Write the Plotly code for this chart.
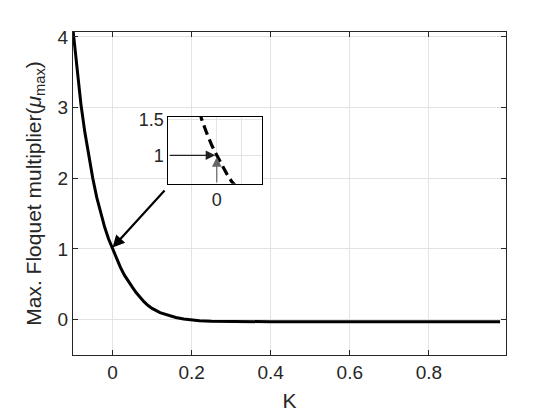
import plotly.graph_objects as go

# curve
k_vals = [-0.10, -0.09, -0.08, -0.07, -0.06, -0.05, -0.04, -0.03, -0.02, -0.01,
          0.00, 0.01, 0.02, 0.03, 0.04, 0.05, 0.06, 0.07, 0.08, 0.09,
          0.10, 0.12, 0.14, 0.16, 0.18, 0.20, 0.22, 0.25, 0.30, 0.35,
          0.40, 0.50, 0.60, 0.70, 0.80, 0.90, 0.98]
mu_vals = [4.10, 3.55, 3.05, 2.65, 2.30, 2.00, 1.73, 1.50, 1.31, 1.14,
           1.00, 0.86, 0.74, 0.63, 0.54, 0.46, 0.38, 0.31, 0.25, 0.20,
           0.16, 0.10, 0.06, 0.03, 0.01, -0.005, -0.015, -0.022, -0.027, -0.03,
           -0.03, -0.03, -0.03, -0.03, -0.03, -0.028, -0.028]

x_ticks = [0, 0.2, 0.4, 0.6, 0.8]
y_ticks = [0, 1, 2, 3, 4]
inset_x_ticks = [-0.05, 0, 0.05]
inset_x_text = ['', '0', '']
inset_y_ticks = [1, 1.5]

fnt = "Arial, Liberation Sans, sans-serif"
grid = "#e3e3e3"
axcol = "#262626"

fig = go.Figure()
fig.add_trace(go.Scatter(x=k_vals, y=mu_vals, mode="lines",
                         line=dict(color="black", width=3), showlegend=False))
fig.add_trace(go.Scatter(x=k_vals, y=mu_vals, mode="lines", xaxis="x2", yaxis="y2",
                         line=dict(color="black", width=3.2, dash="10px,5px"), showlegend=False))

# page body has an 8px margin, so the figure is 8px smaller
fig.update_layout(
    width=552, height=412,
    margin=dict(l=65, r=54, t=24, b=63),
    paper_bgcolor="white", plot_bgcolor="white",
    font=dict(family=fnt, size=19, color=axcol),
    xaxis=dict(range=[-0.1, 0.995], tickvals=x_ticks, ticks="inside", ticklen=5,
               tickcolor=axcol, showline=True, linecolor=axcol, mirror="ticks",
               showgrid=True, gridcolor=grid, zeroline=False,
               title=dict(text="K", font=dict(size=21), standoff=11)),
    yaxis=dict(range=[-0.5, 4.07], tickvals=y_ticks, ticks="inside", ticklen=5,
               tickcolor=axcol, showline=True, linecolor=axcol, mirror="ticks",
               showgrid=True, gridcolor=grid, zeroline=False,
               title=dict(text="Max. Floquet multiplier(<i>μ</i><sub>max</sub>)",
                          font=dict(size=21), standoff=10)),
    xaxis2=dict(domain=[0.220, 0.436], anchor="y2", range=[-0.097, 0.09],
                tickvals=inset_x_ticks, ticktext=inset_x_text, ticks="",
                showline=True, linecolor="black", mirror=True,
                showgrid=True, gridcolor=grid, zeroline=False,
                tickfont=dict(size=18)),
    yaxis2=dict(domain=[0.530, 0.7375], anchor="x2", range=[0.6, 1.54],
                tickvals=inset_y_ticks, ticks="",
                showline=True, linecolor="black", mirror=True,
                showgrid=True, gridcolor=grid, zeroline=False,
                tickfont=dict(size=18)),
)

# big arrow pointing at (0, 1)
fig.add_annotation(x=0.0, y=1.02, ax=0.135, ay=1.85, xref="x", yref="y",
                   axref="x", ayref="y", text="", showarrow=True,
                   arrowhead=2, arrowsize=1.1, arrowwidth=2.2, arrowcolor="black")
# inset arrows
fig.add_annotation(x=-0.003, y=1.0, ax=-0.097, ay=1.0, xref="x2", yref="y2",
                   axref="x2", ayref="y2", text="", showarrow=True,
                   arrowhead=2, arrowsize=1.6, arrowwidth=1.2, arrowcolor="#222222")
fig.add_annotation(x=0.0, y=0.975, ax=0.0, ay=0.6, xref="x2", yref="y2",
                   axref="x2", ayref="y2", text="", showarrow=True,
                   arrowhead=2, arrowsize=1.6, arrowwidth=1.2, arrowcolor="#666666")

fig.write_html("out.html")
